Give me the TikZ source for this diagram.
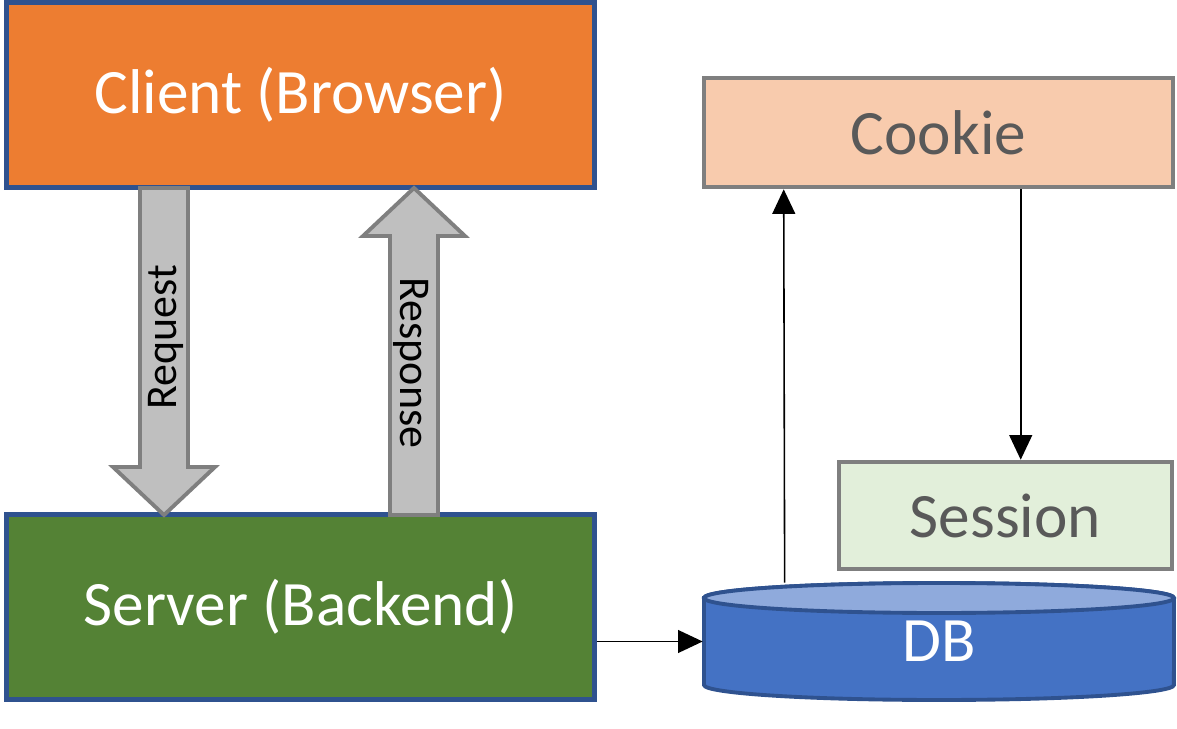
\documentclass[tikz,border=0pt]{standalone}
\usepackage{fontspec}
\setmainfont{Carlito}
\usetikzlibrary{arrows.meta, calc}

\definecolor{clientorange}{HTML}{ED7D31}
\definecolor{servergreen}{HTML}{548235}
\definecolor{boxblue}{HTML}{2F528F}
\definecolor{dbblue}{HTML}{4472C4}
\definecolor{dblight}{HTML}{8FAADC}
\definecolor{cookiefill}{HTML}{F8CBAD}
\definecolor{sessionfill}{HTML}{E2EFDA}
\definecolor{boxgray}{HTML}{7F7F7F}
\definecolor{fatgray}{HTML}{BFBFBF}
\definecolor{textgray}{HTML}{595959}

\tikzset{
    mainbox/.style={draw=boxblue, line width=2.6pt, minimum width=588*0.02cm, minimum height=185*0.02cm, text=white, font=\fontsize{36}{40}\selectfont},
    storebox/.style={draw=boxgray, line width=2.6pt, text=textgray, font=\fontsize{36}{40}\selectfont},
    fatarrow/.style={draw=boxgray, fill=fatgray, line width=2.2pt, line join=miter},
    conn/.style={line width=0.9pt, -{Triangle[length=14pt, width=13pt]}},
    vlabel/.style={font=\fontsize{25}{30}\selectfont}
}

\begin{document}
\begin{tikzpicture}[x=0.02cm, y=0.02cm]
    \useasboundingbox (0,0) rectangle (1177,728);
    % boxes
    \node[mainbox, fill=clientorange] (client) at (300.5,633) {Client (Browser)};
    \node[mainbox, fill=servergreen] (server) at (300.5,121) {Server (Backend)};
    \node[storebox, fill=cookiefill, minimum width=469*0.02cm, minimum height=109*0.02cm] (cookie) at (938.5,595.5) {Cookie};
    \node[storebox, fill=sessionfill, minimum width=333*0.02cm, minimum height=107*0.02cm] (session) at (1005.5,212.5) {Session};
    % database
    \draw[fill=dbblue, draw=boxblue, line width=2.2pt] (704,130) -- (704,43)
        arc[start angle=180, end angle=360, x radius=4.70cm, y radius=0.3cm]
        -- (1174,130)
        arc[start angle=0, end angle=180, x radius=4.70cm, y radius=0.3cm] -- cycle;
    \draw[fill=dblight, draw=boxblue, line width=2.2pt] (939,130) ellipse[x radius=4.70cm, y radius=0.3cm];
    \node[minimum width=472*0.02cm, minimum height=117*0.02cm, text=white, font=\fontsize{36}{40}\selectfont] (db) at (939,86.5) {\raisebox{-4pt}{DB}};
    % request / response
    \draw[fatarrow] (140,540) -- (188,540) -- (188,261) -- (215,261) -- (164,213) -- (113,261) -- (140,261) -- cycle;
    \draw[fatarrow] (390,213) -- (438,213) -- (438,492) -- (465,492) -- (414,540) -- (363,492) -- (390,492) -- cycle;
    \node[vlabel, rotate=90] (req) at (166,391) {Request};
    \node[vlabel, rotate=-90] (resp) at (411,365) {Response};
    % connectors
    \draw[conn] (server.east |- db.west) -- (db.west);
    \draw[conn] ($(db.north west)+(82,0)$) -- ($(cookie.south west)+(82,0)$);
    \draw[conn] ($(cookie.south west)+(319,0)$) -- ($(session.north west)+(184,0)$);
\end{tikzpicture}
\end{document}
